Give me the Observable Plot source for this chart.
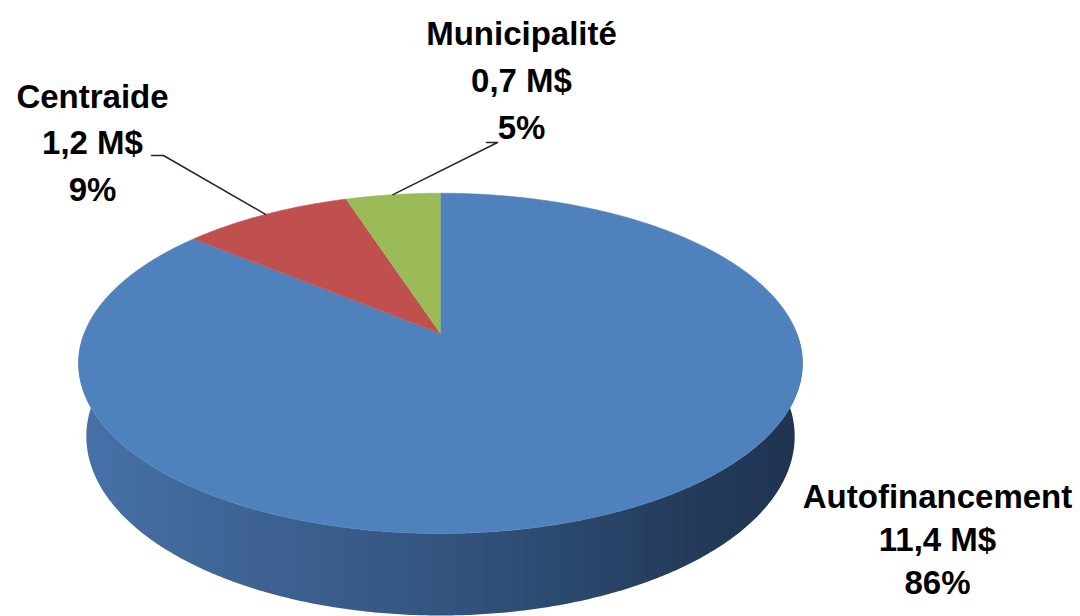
<!DOCTYPE html>
<html>
<head>
<meta charset="utf-8">
<script src="https://cdn.jsdelivr.net/npm/d3@7"></script>
<script src="https://cdn.jsdelivr.net/npm/@observablehq/plot@0.6"></script>
<style>
  html, body { margin: 0; padding: 0; background: #ffffff; }
  #chart svg { display: block; }
</style>
</head>
<body>
<div id="chart"></div>
<script>
// ---------- data ----------
const categories = ["Autofinancement", "Centraide", "Municipalité"];
const amounts = [11.4, 1.2, 0.7];            // millions de $
const percents = [86, 9, 5];                 // % du total
const amountLabels = ["11,4 M$", "1,2 M$", "0,7 M$"];
const percentLabels = ["86%", "9%", "5%"];

// ---------- style / layout ----------
const sliceColors = ["#4f81bd", "#c0504d", "#9bbb59"];
const W = 1080, H = 616;
const apex = {x: 440, y: 333};     // projected pie centre
const focal = 1801, dist = 5.054;  // perspective camera
const sinT = 0.4627, cosT = Math.sqrt(1 - sinT * sinT);
const thickness = 0.2332;          // pie height (radius units)
// label block anchors (centre x, first baseline y, line gap)
const labelLayout = [
  {x: 937, y: 507, gap: 43},
  {x: 92, y: 107, gap: 46.5},
  {x: 521, y: 44, gap: 47}
];
// start of each leader line (null = no leader)
const leaderStart = [null, [[151, 155], [163, 155]], [[486, 142], [497, 142]]];

// perspective projection of a disc point (angle clockwise from 12 o'clock)
function proj(deg, h = 0) {
  const a = deg * Math.PI / 180;
  const u = Math.sin(a), v = -Math.cos(a);
  const depth = dist - v * cosT - h * sinT;
  return {x: apex.x + focal * u / depth, y: apex.y + focal * (v * sinT - h * cosT) / depth};
}
function arc(a0, a1, h = 0) {
  const pts = d3.range(a0, a1, 0.5).map(d => proj(d, h));
  pts.push(proj(a1, h));
  return pts;
}

// slice angles from the percentages
const total = d3.sum(percents);
let acc = 0;
const slices = categories.map((c, i) => {
  const a0 = acc / total * 360;
  acc += percents[i];
  const a1 = acc / total * 360;
  return {category: c, a0, a1, mid: (a0 + a1) / 2, color: sliceColors[i]};
});

// top faces
const topFaces = slices.map(s => [{x: apex.x, y: apex.y}, ...arc(s.a0, s.a1)]);
// visible front wall (all within the first slice)
const sideTop = arc(90, 270, 0);
const sideBottom = arc(90, 270, -thickness).reverse();
const sideWall = [...sideTop, ...sideBottom];

// leader lines
const leaders = slices.map((s, i) => leaderStart[i] ? [...leaderStart[i].map(([x, y]) => ({x, y})), proj(s.mid)] : null)
  .filter(d => d);

// label rows
const labelRows = categories.flatMap((c, i) => [c, amountLabels[i], percentLabels[i]].map((t, k) => ({
  text: t, x: labelLayout[i].x, y: labelLayout[i].y + k * labelLayout[i].gap
})));

const font = "'Liberation Sans', Arial, sans-serif";

const svg = Plot.plot({
  width: W, height: H, margin: 0,
  x: {domain: [0, W], range: [0, W], axis: null},
  y: {domain: [0, H], range: [0, H], axis: null},
  style: {background: "#ffffff", fontFamily: font},
  marks: [
    Plot.line(sideWall, {x: "x", y: "y", fill: "url(#sideGrad)", stroke: "none", curve: "linear"}),
    ...topFaces.map((pts, i) => Plot.line(pts, {x: "x", y: "y", fill: slices[i].color, stroke: slices[i].color, strokeWidth: 0.6, curve: "linear"})),
    ...leaders.map(pts => Plot.line(pts, {x: "x", y: "y", stroke: "#262626", strokeWidth: 1.5})),
    Plot.text(labelRows, {x: "x", y: "y", text: "text", textAnchor: "middle", lineAnchor: "bottom",
      fontSize: 33, fontWeight: "bold", fill: "#000000", fontFamily: font})
  ]
});

// gradient for the shaded wall
const defs = d3.select(svg).insert("defs", ":first-child");
const g = defs.append("linearGradient").attr("id", "sideGrad")
  .attr("gradientUnits", "userSpaceOnUse").attr("x1", 80).attr("x2", 805).attr("y1", 0).attr("y2", 0);
[[0, "#4771a9"], [0.25, "#3d6292"], [0.5, "#33547f"], [0.7, "#2a466a"], [0.85, "#233a5a"], [1, "#1f3350"]]
  .forEach(([o, c]) => g.append("stop").attr("offset", o).attr("stop-color", c));

document.getElementById("chart").appendChild(svg);
</script>
</body>
</html>
